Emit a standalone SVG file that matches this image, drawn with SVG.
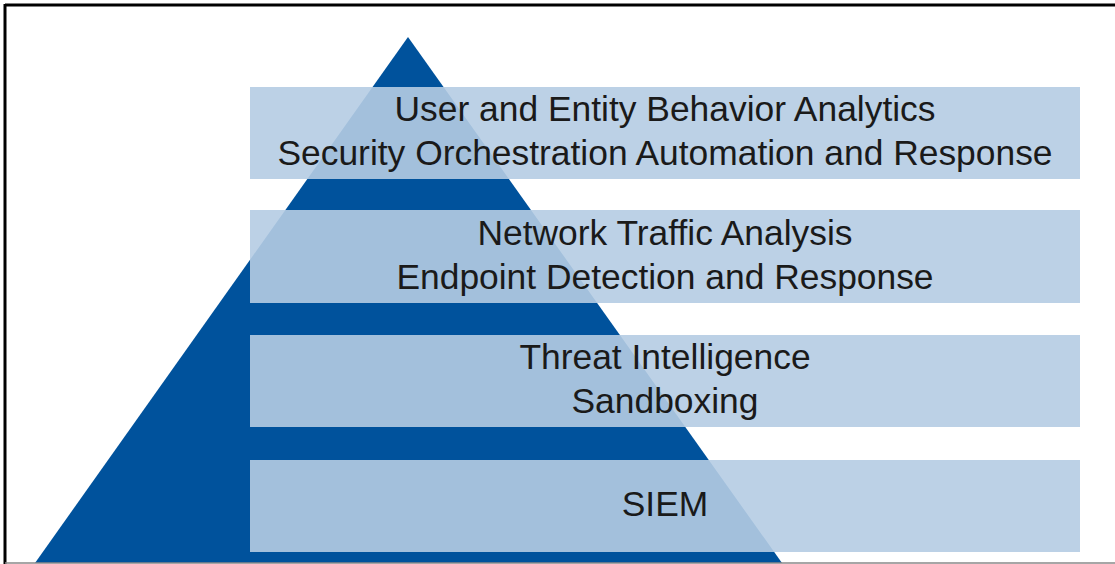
<svg xmlns="http://www.w3.org/2000/svg" width="1115" height="564" viewBox="0 0 1115 564">
<style>
.band{fill:#b5cce3;fill-opacity:0.9}
.t{font-family:"Liberation Sans",Arial,sans-serif;font-size:35.4px;fill:#1a1a1a;text-anchor:middle}
</style>
<rect x="0" y="0" width="1115" height="564" fill="#ffffff"/>
<g id="pyramid">
<polygon points="408,37 35,563 782,563" fill="#00529c"/>
</g>
<g id="layer-top">
<rect class="band" x="250" y="87" width="830" height="92"/>
<text class="t" x="665" y="121">User and Entity Behavior Analytics</text>
<text class="t" x="665" y="165">Security Orchestration Automation and Response</text>
</g>
<g id="layer-2">
<rect class="band" x="250" y="210" width="830" height="93"/>
<text class="t" x="665" y="245">Network Traffic Analysis</text>
<text class="t" x="665" y="289">Endpoint Detection and Response</text>
</g>
<g id="layer-3">
<rect class="band" x="250" y="335" width="830" height="92"/>
<text class="t" x="665" y="369">Threat Intelligence</text>
<text class="t" x="665" y="413">Sandboxing</text>
</g>
<g id="layer-bottom">
<rect class="band" x="250" y="460" width="830" height="92"/>
<text class="t" x="665" y="516">SIEM</text>
</g>
<g id="frame">
<line x1="5" y1="5" x2="1115" y2="5" stroke="#000" stroke-width="3"/>
<line x1="5" y1="4" x2="5" y2="564" stroke="#000" stroke-width="3"/>
<line x1="5" y1="563" x2="1115" y2="563" stroke="#888" stroke-width="1.5"/>
</g>
</svg>
